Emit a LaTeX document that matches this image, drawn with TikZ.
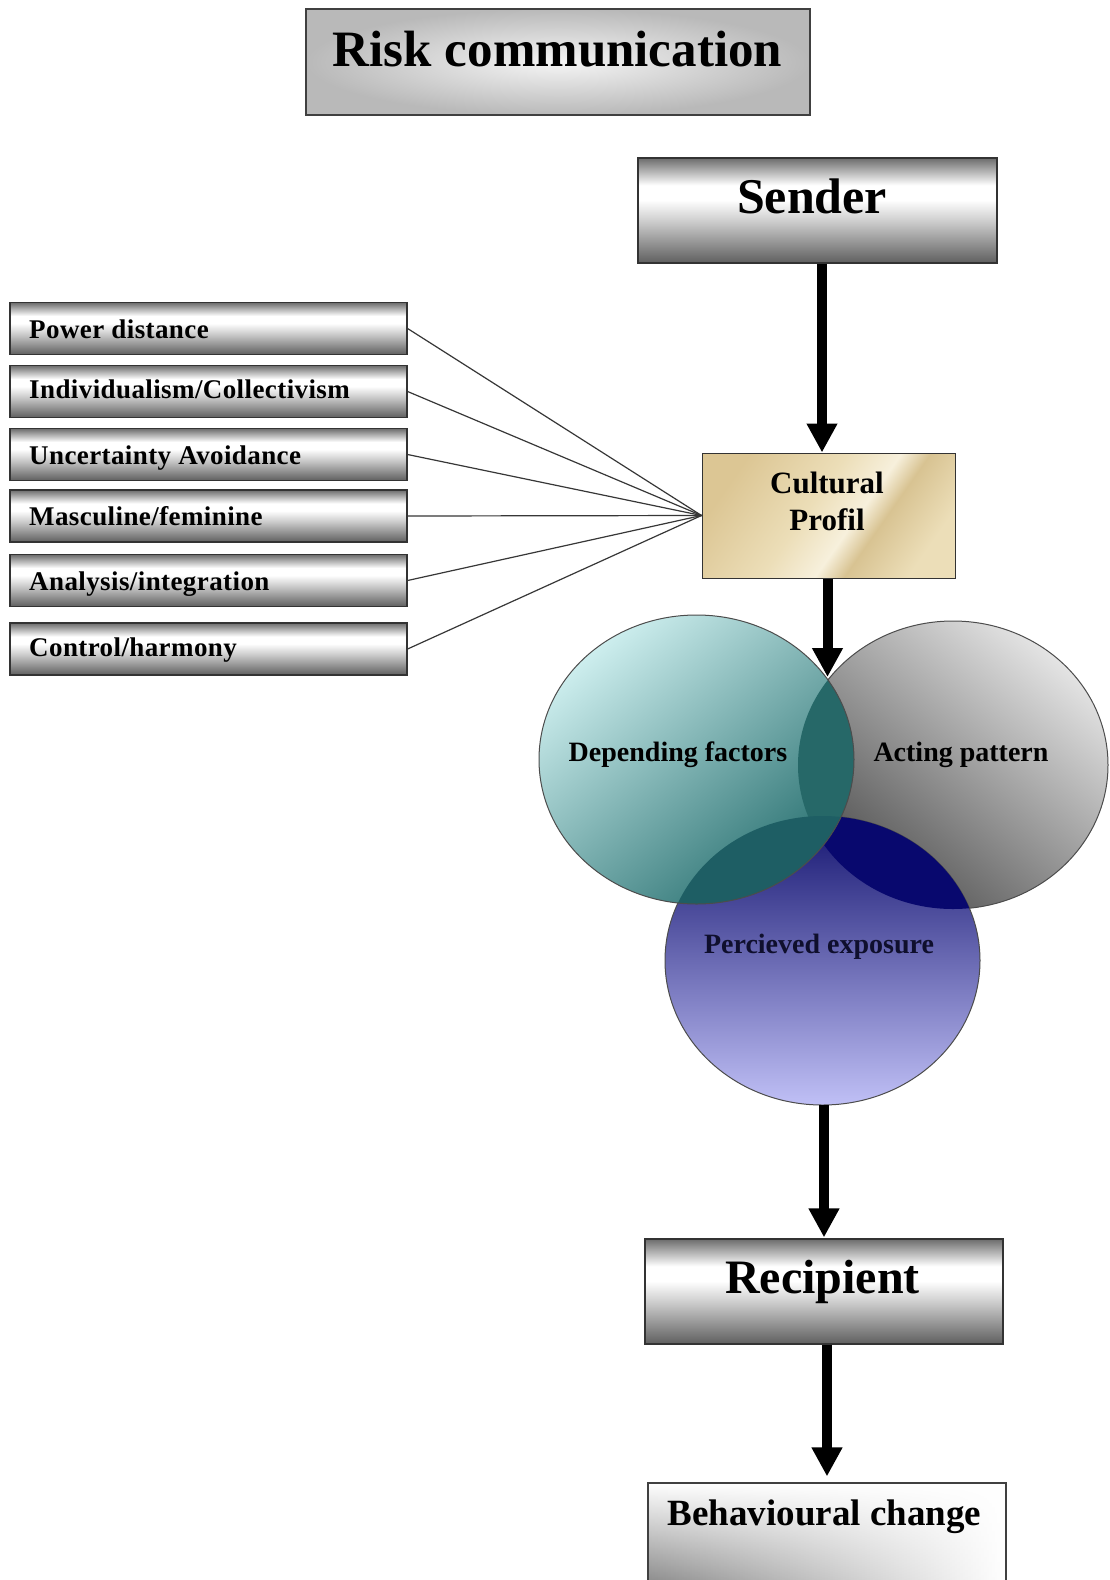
\documentclass[tikz,border=0pt]{standalone}
\usepackage{fontspec}
\setmainfont{Liberation Serif}
\usetikzlibrary{arrows.meta,fadings,calc}

\definecolor{mdark}{RGB}{108,108,108}
\definecolor{mdarkb}{RGB}{95,95,95}
\definecolor{mlight}{RGB}{205,205,205}
\definecolor{tealL}{RGB}{205,238,238}
\definecolor{tealD}{RGB}{40,112,112}
\definecolor{grayL}{RGB}{228,228,228}
\definecolor{grayD}{RGB}{78,78,78}
\definecolor{blueT}{RGB}{20,20,112}
\definecolor{blueM}{RGB}{95,95,190}
\definecolor{blueB}{RGB}{192,192,246}
\definecolor{lensTG}{RGB}{38,104,104}
\definecolor{lensTB}{RGB}{30,94,100}
\definecolor{lensBG}{RGB}{8,8,110}
\definecolor{tanA}{RGB}{220,198,148}
\definecolor{tanB}{RGB}{236,222,184}
\definecolor{tanC}{RGB}{247,240,220}
\definecolor{tanD}{RGB}{216,195,146}
\definecolor{linegray}{RGB}{55,55,55}
\definecolor{titleOut}{RGB}{185,185,185}
\definecolor{titleIn}{RGB}{245,245,245}
\definecolor{behGray}{RGB}{120,120,120}
\definecolor{navytext}{RGB}{15,15,45}

\pgfdeclareverticalshading{metal}{100bp}{color(0bp)=(mdarkb); color(25bp)=(mdarkb); color(45bp)=(mlight); color(55bp)=(white); color(62bp)=(white); color(75bp)=(mdark); color(100bp)=(mdark)}
\pgfdeclarehorizontalshading{cultsh}{100bp}{color(0bp)=(tanA); color(25bp)=(tanA); color(45bp)=(tanB); color(56bp)=(tanC); color(62bp)=(tanD); color(75bp)=(tanB); color(100bp)=(tanB)}
\tikzfading[name=fadedown, top color=transparent!0, middle color=transparent!25, bottom color=transparent!100]

\newcommand\myfs[1]{\fontsize{#1}{#1}\selectfont\bfseries}

\begin{document}
\begin{tikzpicture}[x=1pt,y=-1pt,
  metalbox/.style={draw=black!80, line width=1.2pt, shading=metal, inner sep=0pt},
  lbox/.style={metalbox, minimum width=397pt, minimum height=52pt},
  ltext/.style={anchor=base west, inner sep=0pt, font=\myfs{27}\addfontfeature{LetterSpace=1.5}},
  bigarrow/.style={line width=10pt, -{Triangle[width=29pt,length=29pt]}},
  fan/.style={draw=linegray, line width=1.2pt},
  circout/.style={draw=black!70, line width=1pt},
  ctext/.style={anchor=base, inner sep=0pt, font=\myfs{28}}
]
\useasboundingbox (0,0) rectangle (1110,1580);
\clip (0,0) rectangle (1110,1580);
\fill[white] (0,0) rectangle (1110,1580);

% title
\node[draw=black!75, line width=1.2pt, inner sep=0pt, minimum width=504pt, minimum height=106pt,
      inner color=titleIn, outer color=titleOut] (title) at (558,62) {};
\node[anchor=base, inner sep=0pt, font=\myfs{51}] (titletext) at (557.5,66) {Risk communication};

% sender
\node[metalbox, minimum width=359pt, minimum height=105pt] (sender) at (817.5,210.5) {};
\node[anchor=base, inner sep=0pt, font=\myfs{50}] (sendertext) at (812,213) {Sender};

% cultural profil
\node[draw=black!80, line width=1pt, inner sep=0pt, minimum width=253pt, minimum height=125pt,
      shading=cultsh, shading angle=-35] (cult) at (828.5,515.5) {};
\node[anchor=base, inner sep=0pt, font=\myfs{31}] (culttext1) at (827,493) {Cultural};
\node[anchor=base, inner sep=0pt, font=\myfs{31}] (culttext2) at (827,530) {Profil};

% left boxes
\node[lbox] (b1) at (208.5,328.5) {};
\node[lbox] (b2) at (208.5,391.5) {};
\node[lbox] (b3) at (208.5,454.5) {};
\node[lbox] (b4) at (208.5,516) {};
\node[lbox] (b5) at (208.5,580.5) {};
\node[lbox] (b6) at (208.5,649) {};
\node[ltext] (t1) at (29,338) {Power distance};
\node[ltext] (t2) at (29,398) {Individualism/Collectivism};
\node[ltext] (t3) at (29,464) {Uncertainty Avoidance};
\node[ltext] (t4) at (29,525) {Masculine/feminine};
\node[ltext] (t5) at (29,590) {Analysis/integration};
\node[ltext] (t6) at (29,656) {Control/harmony};

\foreach \b in {b1,b2,b3,b4,b5,b6} \draw[fan] (\b.east) -- (cult.west);

% arrows top
\draw[bigarrow] ([xshift=4.5pt]sender.south) -- ([xshift=-6.5pt]cult.north);
\coordinate (tip2) at (827.5,677);
\draw[bigarrow] ([xshift=-1pt]cult.south) -- (tip2);

% circles
\def\grayC{(953,765) ellipse [x radius=155, y radius=144]}
\def\tealC{(696.5,759.5) ellipse [x radius=157.5, y radius=144.5]}
\def\blueC{(822.5,960.5) ellipse [x radius=157.5, y radius=144.5]}

\shade[top color=grayL, bottom color=grayD, shading angle=-40] \grayC;
\draw[circout] \grayC;
\shade[top color=blueT, middle color=blueM, bottom color=blueB] \blueC;
\draw[circout] \blueC;
\begin{scope}
  \clip \blueC;
  \fill[lensBG] \grayC;
\end{scope}
\shade[top color=tealL, bottom color=tealD, shading angle=40] \tealC;
\begin{scope}
  \clip \tealC;
  \fill[lensTG] \grayC;
  \fill[lensTB] \blueC;
\end{scope}
\draw[circout] \tealC;

\node[ctext] (dep) at (678,761) {Depending factors};
\node[ctext] (act) at (961,761) {Acting pattern};
\node[ctext, text=navytext] (perc) at (819,953) {Percieved exposure};

% recipient
\coordinate (bbot) at (824,1105);
\node[metalbox, minimum width=358pt, minimum height=105pt] (recip) at (824,1291.5) {};
\node[anchor=base, inner sep=0pt, font=\myfs{48}] (reciptext) at (822.5,1293) {Recipient};
\draw[bigarrow] (bbot) -- ([yshift=1pt]recip.north);

% behavioural change
\node[draw=black!75, line width=1.2pt, inner sep=0pt, minimum width=358pt, minimum height=117pt,
      left color=behGray, right color=white,
      path picture={\fill[white, path fading=fadedown] (path picture bounding box.north west) rectangle (path picture bounding box.south east);}] (beh) at (827,1541.5) {};
\node[anchor=base, inner sep=0pt, font=\myfs{37}] (behtext) at (824.5,1525) {Behavioural change};
\draw[bigarrow] ([xshift=3pt]recip.south) -- ([yshift=6pt]beh.north);
\end{tikzpicture}
\end{document}
